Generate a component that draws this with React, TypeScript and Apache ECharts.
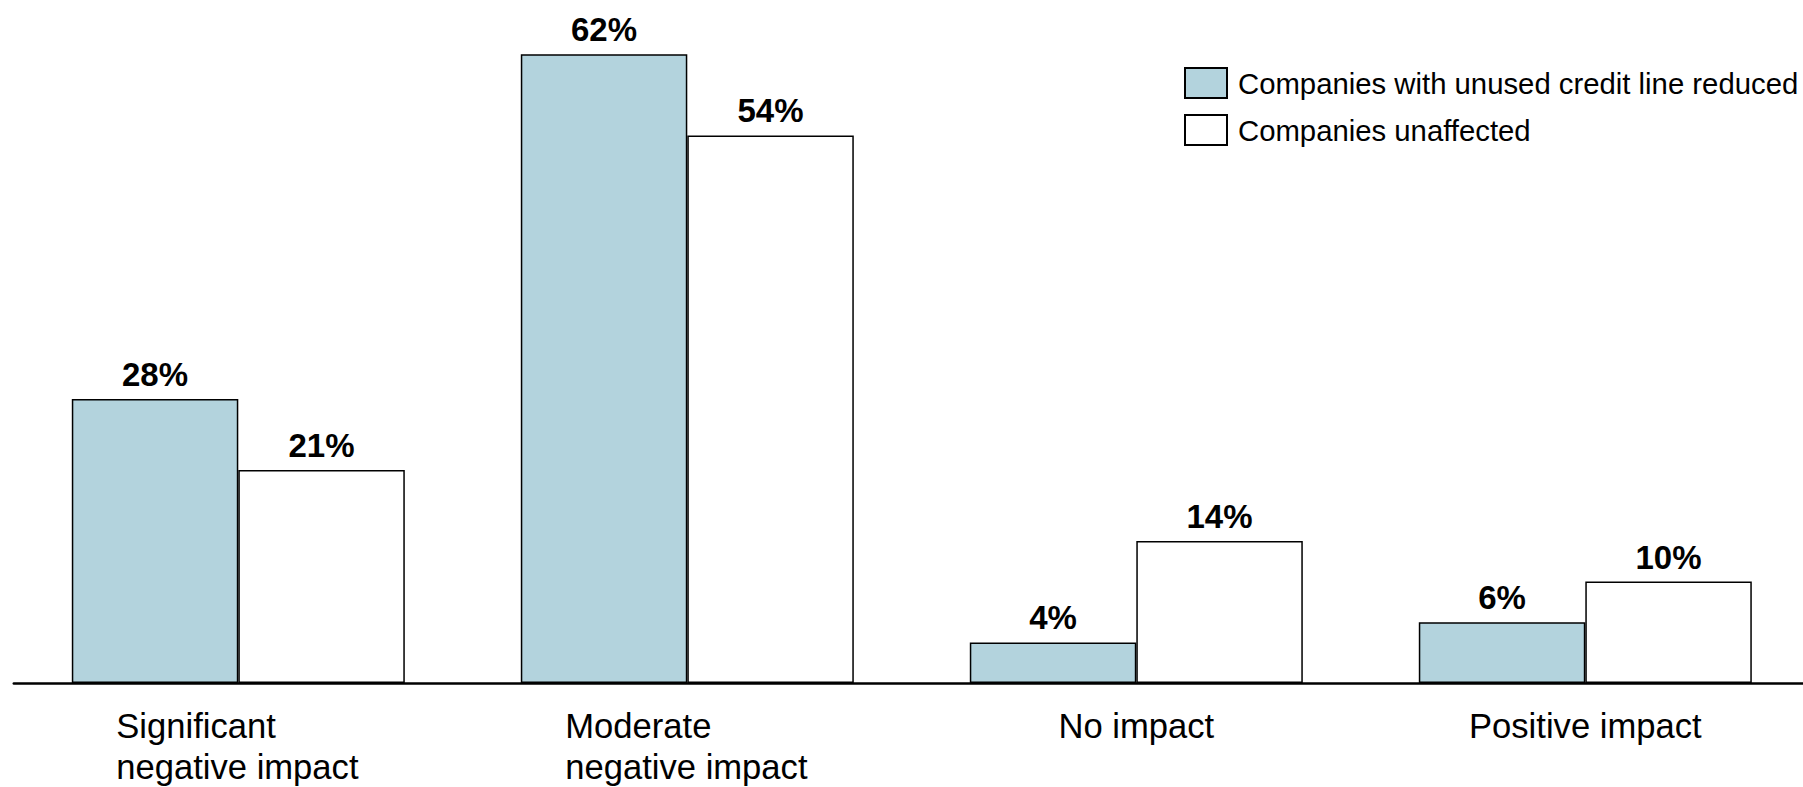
import React, { useEffect, useRef } from "react";
import * as echarts from "echarts";

const categories = ["Significant\nnegative impact", "Moderate\nnegative impact", "No impact", "Positive impact"];
const seriesNames = ["Companies with unused credit line reduced", "Companies unaffected"];
const reducedValues = [28, 62, 4, 6];
const unaffectedValues = [21, 54, 14, 10];

const FONT = "'Liberation Sans', Arial, Helvetica, sans-serif";

export default function App() {
  const ref = useRef<HTMLDivElement>(null);
  useEffect(() => {
    if (!ref.current) return;
    const chart = echarts.init(ref.current, null, { renderer: "svg" });
    const labelCfg = {
      show: true,
      position: "top",
      distance: 8,
      formatter: "{c}%",
      color: "#000",
      fontWeight: "bold",
      fontSize: 33,
      fontFamily: FONT,
    };
    chart.setOption({
      animation: false,
      backgroundColor: "#ffffff",
      textStyle: { fontFamily: FONT },
      legend: {
        orient: "vertical",
        left: 1184,
        top: 67,
        padding: 0,
        itemWidth: 42,
        itemHeight: 30,
        itemGap: 15,
        icon: "rect",
        textStyle: { fontSize: 29.3, color: "#000", fontFamily: FONT, padding: [0, 0, 0, 6] },
        data: seriesNames,
      },
      grid: { left: 13.8, width: 1796, top: 23.9, bottom: 104, containLabel: false },
      xAxis: {
        type: "category",
        data: categories,
        axisLine: { show: true, lineStyle: { color: "#000", width: 2.5 } },
        axisTick: { show: false },
        axisLabel: {
          margin: 22,
          interval: 0,
          formatter: (v: string) => {
            const lines = v.split("\n");
            if (lines.length === 1) return `{b|${v}}`;
            return lines.map((l) => `{a|${l}}`).join("\n");
          },
          rich: {
            a: { fontSize: 34.6, lineHeight: 41, width: 244, align: "left", color: "#000", fontFamily: FONT },
            b: { fontSize: 34.6, lineHeight: 41, color: "#000", fontFamily: FONT },
          },
        },
      },
      yAxis: {
        type: "value",
        min: 0,
        max: 65,
        show: false,
        splitLine: { show: false },
      },
      series: [
        {
          name: seriesNames[0],
          type: "bar",
          data: reducedValues,
          barWidth: 166.5,
          barGap: "0%",
          itemStyle: { color: "#b3d3dd", borderColor: "#000", borderWidth: 1.5 },
          label: labelCfg,
        },
        {
          name: seriesNames[1],
          type: "bar",
          data: unaffectedValues,
          barWidth: 166.5,
          barGap: "0%",
          itemStyle: { color: "#ffffff", borderColor: "#000", borderWidth: 1.5 },
          label: labelCfg,
        },
      ],
    });
    return () => chart.dispose();
  }, []);
  return (
    <div
      style={{ position: "absolute", left: 0, top: 0, width: 1803, height: 787, overflow: "hidden", background: "#fff" }}
    >
      <div ref={ref} style={{ position: "absolute", left: 0, top: 0, width: 1820, height: 787 }} />
    </div>
  );
}
